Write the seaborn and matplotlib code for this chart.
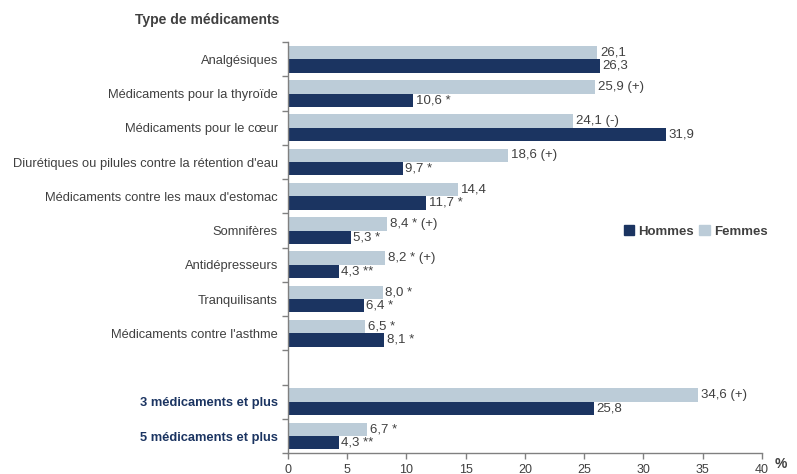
import numpy as np
import pandas as pd
import seaborn as sns
import matplotlib.pyplot as plt
from matplotlib.patches import Patch

categories = ["Analgésiques", "Médicaments pour la thyroïde", "Médicaments pour le cœur",
              "Diurétiques ou pilules contre la rétention d'eau",
              "Médicaments contre les maux d'estomac", "Somnifères", "Antidépresseurs",
              "Tranquilisants", "Médicaments contre l'asthme",
              "3 médicaments et plus", "5 médicaments et plus"]
femmes = [26.1, 25.9, 24.1, 18.6, 14.4, 8.4, 8.2, 8.0, 6.5, 34.6, 6.7]
hommes = [26.3, 10.6, 31.9, 9.7, 11.7, 5.3, 4.3, 6.4, 8.1, 25.8, 4.3]
femmes_lab = ["26,1", "25,9 (+)", "24,1 (-)", "18,6 (+)", "14,4", "8,4 * (+)", "8,2 * (+)",
              "8,0 *", "6,5 *", "34,6 (+)", "6,7 *"]
hommes_lab = ["26,3", "10,6 *", "31,9", "9,7 *", "11,7 *", "5,3 *", "4,3 **", "6,4 *",
              "8,1 *", "25,8", "4,3 **"]
x_ticks = [0, 5, 10, 15, 20, 25, 30, 35, 40]

# ordre avec une ligne vide avant les totaux
order = categories[:9] + [" "] + categories[9:]

df = pd.DataFrame({
    "type": categories * 2,
    "pct": femmes + hommes,
    "sexe": ["Femmes"] * len(categories) + ["Hommes"] * len(categories),
})
labels = {("Femmes", c): l for c, l in zip(categories, femmes_lab)}
labels.update({("Hommes", c): l for c, l in zip(categories, hommes_lab)})

sns.set_style("ticks")
plt.rcParams['font.family'] = ['Liberation Sans', 'DejaVu Sans']
navy = "#1B3461"
light = "#BCCCD8"
grey = "#404040"

fig = plt.figure(figsize=(7.97, 4.74), dpi=100)
ax = fig.add_axes([0.361, 0.044, 0.595, 0.867])
sns.barplot(data=df, x="pct", y="type", hue="sexe", order=order,
            hue_order=["Femmes", "Hommes"], palette=[light, navy],
            width=0.78, orient="h", ax=ax, legend=False, saturation=1, linewidth=0)

# etiquettes de valeurs
for cont, sexe in zip(ax.containers, ["Femmes", "Hommes"]):
    labs = []
    for bar in cont:
        idx = int(round(bar.get_y() + bar.get_height() / 2))
        labs.append(labels.get((sexe, order[idx]), ""))
    ax.bar_label(cont, labels=labs, padding=2, fontsize=9.5, color=grey)

ax.set_xlim(0, 40)
ax.set_ylim(len(order) - 0.5, -0.5)
ax.set_xticks(x_ticks)
ax.set_xticklabels([str(t) for t in x_ticks], fontsize=9, color=grey)
ax.set_xlabel("")
ax.set_ylabel("")
ax.set_yticks(range(len(order)))
ax.set_yticklabels(order, fontsize=9.3, color=grey)
for t in ax.get_yticklabels():
    if t.get_text() in categories[9:]:
        t.set_fontweight("bold")
        t.set_color(navy)
ax.set_yticks(np.arange(-0.5, len(order), 1), minor=True)
ax.tick_params(axis="y", which="major", length=0, pad=7)
ax.tick_params(axis="y", which="minor", left=True, length=4, width=1, color="#808080",
               direction="out")
ax.tick_params(axis="x", bottom=True, length=4, width=1, color="#808080", direction="out", pad=4)
for s in ["top", "right"]:
    ax.spines[s].set_visible(False)
for s in ["left", "bottom"]:
    ax.spines[s].set_color("#808080")
    ax.spines[s].set_linewidth(1)

fig.text(0.972, 0.022, "%", fontsize=10, fontweight="bold", color=grey, ha="left", va="center")
fig.text(0.26, 0.958, "Type de médicaments", fontsize=10, fontweight="bold", color=grey,
         ha="center", va="center")

handles = [Patch(color=navy, label="Hommes"), Patch(color=light, label="Femmes")]
leg = ax.legend(handles=handles, ncol=2, frameon=False, loc="center",
                bbox_to_anchor=(0.86, 0.54), handlelength=0.8, handleheight=0.8,
                handletextpad=0.3, columnspacing=0.4, prop={"weight": "bold", "size": 9.5})
for t in leg.get_texts():
    t.set_color(grey)

plt.savefig("out.png", dpi=100)
